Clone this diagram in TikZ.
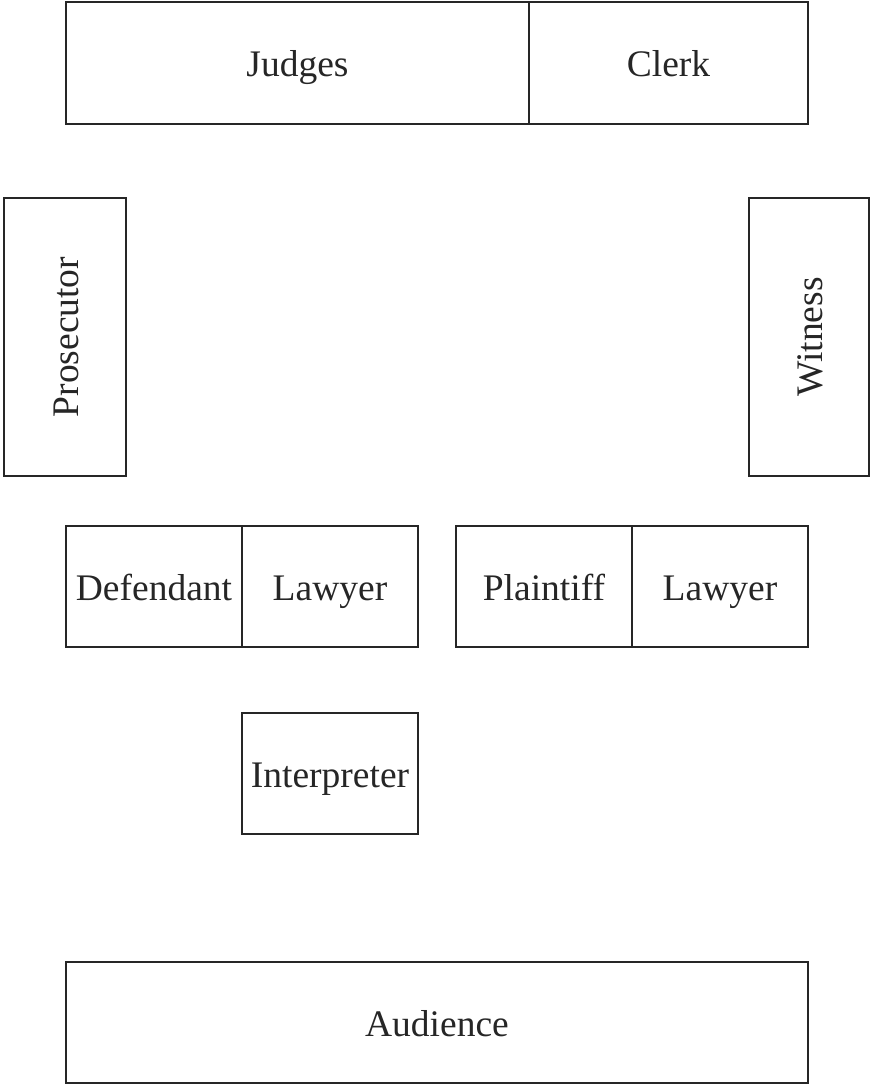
\documentclass[tikz,border=0pt]{standalone}
\usepackage{fontspec}
\setmainfont{Liberation Serif}
\begin{document}
\begin{tikzpicture}[x=1pt,y=-1pt,
  seat/.style={draw=black!85, line width=2pt, inner sep=0pt, anchor=center,
    text height=30pt, text depth=3pt,
    font=\fontsize{37.5}{40}\selectfont, text=black!85}]
\useasboundingbox (0,0) rectangle (871,1085);
\node[seat, minimum width=463, minimum height=122] (judges) at (297.5,63) {Judges};
\node[seat, minimum width=279, minimum height=122] (clerk) at (668.5,63) {Clerk};
\node[seat, rotate=90, minimum width=278, minimum height=122] (prosecutor) at (65,337) {Prosecutor};
\node[seat, rotate=90, minimum width=278, minimum height=120] (witness) at (809,337) {Witness};
\node[seat, minimum width=176, minimum height=121] (defendant) at (154,586.5) {Defendant};
\node[seat, minimum width=176, minimum height=121] (lawyerd) at (330,586.5) {Lawyer};
\node[seat, minimum width=176, minimum height=121] (plaintiff) at (544,586.5) {Plaintiff};
\node[seat, minimum width=176, minimum height=121] (lawyerp) at (720,586.5) {Lawyer};
\node[seat, minimum width=176, minimum height=121] (interpreter) at (330,773.5) {Interpreter};
\node[seat, minimum width=742, minimum height=121] (audience) at (437,1022.5) {Audience};
\end{tikzpicture}
\end{document}
